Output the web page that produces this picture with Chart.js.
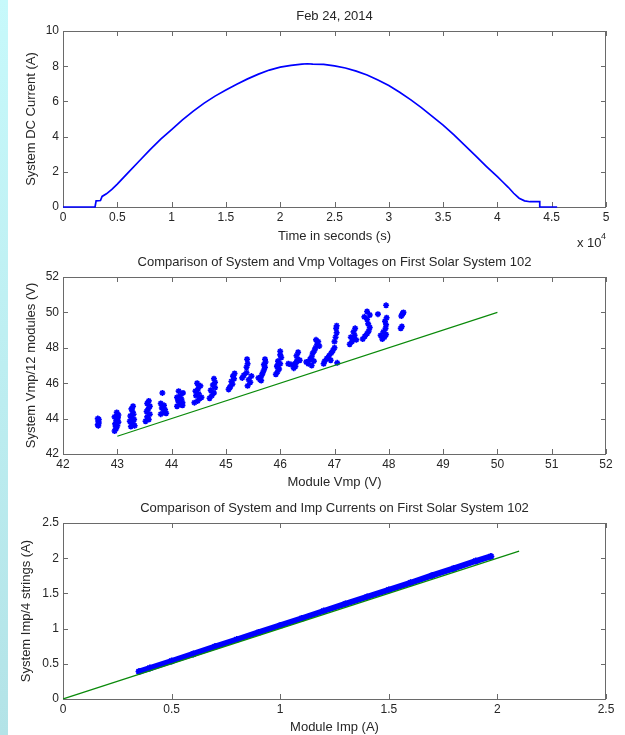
<!DOCTYPE html>
<html>
<head>
<meta charset="utf-8">
<title>First Solar System 102</title>
<script src="https://cdn.jsdelivr.net/npm/chart.js@4.4.1/dist/chart.umd.min.js"></script>
<style>
  html, body { margin: 0; padding: 0; background: #fff; }
  body { position: relative; width: 625px; height: 735px; overflow: hidden; }
  .edge { position: absolute; left: 0; top: 0; width: 8px; height: 735px; background: linear-gradient(#c7f9fb, #b3e3e7); }
  canvas { position: absolute; left: 0; }
</style>
</head>
<body>
<div class="edge"></div>
<canvas id="dcChart" width="625" height="250" style="top:0"></canvas>
<canvas id="vmpChart" width="625" height="242" style="top:250px"></canvas>
<canvas id="impChart" width="625" height="243" style="top:492px"></canvas>
<script>
// Feb 24, 2014 - DC current over the day
const timeSec = [0, 2950, 3050, 3450, 3600, 4000, 4500, 5000, 6000, 7000, 8000, 9000, 10000, 11000, 12000,
  13000, 14000, 15000, 16000, 17000, 18000, 19000, 20000, 21000, 22000, 22500, 23000, 24000, 25000, 26000,
  27000, 28000, 29000, 30000, 31000, 32000, 33000, 34000, 35000, 36000, 37000, 38000, 39000, 40000, 40500,
  41000, 41500, 42000, 42500, 43000, 43900, 43900, 45500];
const dcCurrent = [0, 0, 0.35, 0.37, 0.6, 0.75, 1.0, 1.3, 1.95, 2.6, 3.25, 3.85, 4.4, 4.95, 5.45,
  5.9, 6.3, 6.65, 6.98, 7.28, 7.55, 7.78, 7.95, 8.05, 8.12, 8.14, 8.12, 8.1, 8.02, 7.9,
  7.72, 7.5, 7.22, 6.9, 6.52, 6.1, 5.65, 5.15, 4.65, 4.1, 3.5, 2.9, 2.3, 1.72, 1.42,
  1.12, 0.78, 0.5, 0.35, 0.3, 0.3, 0, 0];

// module Vmp vs system Vmp / 12 modules, one row per column of readings
const vmpPoints = [
  [42.64, 43.65], [42.66, 43.75], [42.65, 43.85], [42.66, 43.95], [42.64, 44.0], [42.65, 43.6],
  [42.95, 43.3], [42.98, 43.45], [43.0, 43.6], [42.96, 43.7], [43.02, 43.8], [42.98, 43.9], [43.0, 44.0], [42.95, 44.1], [43.02, 44.2], [42.99, 44.35], [42.97, 43.55], [43.01, 44.05],
  [43.25, 43.55], [43.3, 43.65], [43.27, 43.75], [43.23, 43.85], [43.31, 43.95], [43.27, 44.05], [43.24, 44.15], [43.3, 44.25], [43.28, 44.4], [43.26, 44.55], [43.29, 44.7], [43.32, 43.6],
  [43.52, 43.85], [43.58, 43.95], [43.55, 44.1], [43.6, 44.25], [43.54, 44.4], [43.57, 44.55], [43.6, 44.7], [43.55, 44.85], [43.58, 45.0],
  [43.8, 44.25], [43.85, 44.35], [43.88, 44.5], [43.82, 44.6], [43.86, 44.75], [43.8, 44.85], [43.83, 45.45], [43.9, 44.3],
  [44.1, 44.7], [44.15, 44.8], [44.2, 44.9], [44.12, 45.0], [44.18, 45.1], [44.1, 45.2], [44.16, 45.3], [44.21, 45.45], [44.13, 45.55], [44.2, 44.75],
  [44.42, 44.9], [44.48, 45.0], [44.52, 45.15], [44.45, 45.3], [44.5, 45.4], [44.44, 45.55], [44.49, 45.7], [44.53, 45.85], [44.47, 46.0], [44.55, 45.2],
  [44.7, 45.15], [44.74, 45.3], [44.78, 45.45], [44.72, 45.6], [44.8, 45.75], [44.76, 45.9], [44.8, 46.05], [44.78, 46.25],
  [45.05, 45.65], [45.08, 45.8], [45.12, 45.95], [45.1, 46.1], [45.15, 46.25], [45.13, 46.4], [45.16, 46.55], [45.07, 45.75],
  [45.3, 46.3], [45.33, 46.45], [45.38, 46.6], [45.42, 46.2], [45.45, 46.05], [45.4, 45.85], [45.38, 46.9], [45.4, 47.1], [45.39, 47.35], [45.47, 46.4],
  [45.6, 46.3], [45.63, 46.2], [45.66, 46.45], [45.68, 46.6], [45.7, 46.75], [45.72, 46.9], [45.7, 47.05], [45.73, 47.2], [45.72, 47.35], [45.65, 46.15],
  [45.92, 46.5], [45.95, 46.65], [45.98, 46.8], [45.94, 46.95], [46.0, 47.1], [45.96, 47.25], [46.02, 47.45], [46.0, 47.6], [46.0, 47.8], [45.95, 47.0],
  [46.15, 47.1], [46.2, 47.05], [46.25, 46.85], [46.28, 46.95], [46.3, 47.2], [46.32, 47.35], [46.3, 47.55], [46.33, 47.75], [46.27, 47.1], [46.36, 47.3],
  [46.48, 47.2], [46.52, 47.1], [46.55, 47.35], [46.58, 47.5], [46.6, 47.7], [46.63, 47.85], [46.65, 48.0], [46.68, 48.2], [46.7, 48.35], [46.66, 48.45], [46.58, 47.0], [46.72, 48.1], [46.62, 47.25],
  [46.8, 47.1], [46.82, 47.25], [46.86, 47.4], [46.9, 47.55], [46.94, 47.7], [46.97, 47.85], [47.0, 48.0], [46.93, 47.3], [47.05, 47.15],
  [47.0, 48.35], [47.02, 48.6], [47.04, 48.85], [47.03, 49.1], [47.04, 49.25],
  [47.28, 48.2], [47.32, 48.35], [47.35, 48.55], [47.37, 48.7], [47.35, 48.9], [47.38, 49.1], [47.4, 48.45], [47.3, 48.6],
  [47.52, 48.5], [47.56, 48.65], [47.6, 48.8], [47.63, 48.95], [47.65, 49.15], [47.62, 49.35], [47.6, 49.6], [47.65, 49.85], [47.6, 50.05], [47.55, 49.75],
  [47.8, 49.9], [47.88, 48.5], [47.92, 48.6], [47.95, 48.75], [47.9, 48.9], [47.94, 49.1], [47.95, 49.3], [47.93, 49.5], [47.96, 49.7], [47.95, 50.4], [47.85, 48.7],
  [48.22, 49.1], [48.24, 49.2], [48.23, 49.8], [48.25, 49.9], [48.27, 50.0], [48.26, 49.95]
];
const vmpIdeal = [[43, 43], [50, 50]];

// module Imp vs system Imp / 4 strings
const impModule = [0.35, 0.4, 0.5, 0.6, 0.7, 0.8, 0.9, 1.0, 1.1, 1.2, 1.3, 1.4, 1.5, 1.6, 1.7, 1.8, 1.9, 1.97];
const impSystem = [0.39, 0.44, 0.54, 0.64, 0.745, 0.845, 0.945, 1.045, 1.145, 1.25, 1.35, 1.45, 1.55, 1.65, 1.755, 1.855, 1.96, 2.025];
const impIdeal = [[0, 0], [2.1, 2.1]];

const FONT = '"Liberation Sans", Arial, sans-serif';
const TEXT = "#262626";
const BLUE = "#0000ff";
const GREEN = "#0a8a0a";

Chart.defaults.font.family = FONT;
Chart.defaults.color = TEXT;

// axes box with inward ticks on all four sides
const boxTicks = {
  id: "boxTicks",
  beforeDatasetsDraw(chart) {
    const { ctx, chartArea: a, scales: { x, y } } = chart;
    ctx.save();
    ctx.strokeStyle = "#6a6a6a";
    ctx.lineWidth = 1;
    ctx.beginPath();
    x.ticks.forEach((t) => {
      const px = Math.round(x.getPixelForValue(t.value)) + 0.5;
      ctx.moveTo(px, a.bottom); ctx.lineTo(px, a.bottom - 5);
      ctx.moveTo(px, a.top); ctx.lineTo(px, a.top + 5);
    });
    y.ticks.forEach((t) => {
      const py = Math.round(y.getPixelForValue(t.value)) + 0.5;
      ctx.moveTo(a.left, py); ctx.lineTo(a.left + 5, py);
      ctx.moveTo(a.right, py); ctx.lineTo(a.right - 5, py);
    });
    ctx.stroke();
    ctx.strokeRect(Math.round(a.left) + 0.5, Math.round(a.top) + 0.5, Math.round(a.width) - 1, Math.round(a.height));
    ctx.restore();
  }
};

// "x 10^4" multiplier under the time axis
const timeExponent = {
  id: "timeExponent",
  afterDraw(chart) {
    const { ctx } = chart;
    ctx.save();
    ctx.fillStyle = TEXT;
    ctx.textBaseline = "alphabetic";
    ctx.font = `13px ${FONT}`;
    ctx.fillText("x 10", 577, 247);
    ctx.font = `9px ${FONT}`;
    ctx.fillText("4", 601, 239);
    ctx.restore();
  }
};

function makeOptions(cfg) {
  return {
    responsive: false,
    animation: false,
    events: [],
    layout: { padding: { left: 0, right: 19, top: 0, bottom: 0 } },
    plugins: {
      legend: { display: false },
      tooltip: { enabled: false },
      title: {
        display: true,
        text: cfg.title,
        fullSize: false,
        color: TEXT,
        font: { size: 13, weight: "normal" },
        padding: cfg.titlePad
      }
    },
    scales: {
      x: {
        type: "linear",
        min: cfg.x[0], max: cfg.x[1],
        afterFit: (s) => { s.height = cfg.xHeight; },
        grid: { display: false, drawTicks: false },
        border: { display: false },
        ticks: {
          stepSize: cfg.x[2], autoSkip: false, maxRotation: 0, padding: 3,
          font: { size: 12 }, color: TEXT,
          callback: cfg.xLabel || ((v) => v)
        },
        title: { display: true, text: cfg.xTitle, font: { size: 13 }, color: TEXT, padding: { top: 0, bottom: cfg.xTitlePad } }
      },
      y: {
        type: "linear",
        min: cfg.y[0], max: cfg.y[1],
        afterFit: (s) => { s.width = 63; },
        grid: { display: false, drawTicks: false },
        border: { display: false },
        ticks: { stepSize: cfg.y[2], autoSkip: false, padding: 4, font: { size: 12 }, color: TEXT, callback: (v) => v },
        title: { display: true, text: cfg.yTitle, font: { size: 13 }, color: TEXT, padding: { top: cfg.yTitlePad, bottom: 0 } }
      }
    }
  };
}

new Chart(document.getElementById("dcChart"), {
  type: "scatter",
  data: {
    datasets: [{
      data: timeSec.map((t, i) => ({ x: t, y: dcCurrent[i] })),
      showLine: true,
      borderColor: BLUE,
      borderWidth: 1.7,
      pointRadius: 0,
      clip: 2
    }]
  },
  options: makeOptions({
    title: "Feb 24, 2014",
    titlePad: { top: 8.2, bottom: 7.2 },
    x: [0, 50000, 5000], xHeight: 43, xTitle: "Time in seconds (s)", xTitlePad: 5.7,
    xLabel: (v) => v / 10000,
    y: [0, 10, 2], yTitle: "System DC Current (A)", yTitlePad: 23.2
  }),
  plugins: [boxTicks, timeExponent]
});

new Chart(document.getElementById("vmpChart"), {
  type: "scatter",
  data: {
    datasets: [
      {
        data: vmpIdeal.map(([x, y]) => ({ x, y })),
        showLine: true, borderColor: GREEN, borderWidth: 1.2, pointRadius: 0, order: 0
      },
      {
        data: vmpPoints.map(([x, y]) => ({ x, y })),
        pointStyle: "star", pointRadius: 3, borderWidth: 1.6,
        borderColor: BLUE, backgroundColor: BLUE, order: 1
      }
    ]
  },
  options: makeOptions({
    title: "Comparison of System and Vmp Voltages on First Solar System 102",
    titlePad: { top: 4.9, bottom: 6.5 },
    x: [42, 52, 1], xHeight: 38, xTitle: "Module Vmp (V)", xTitlePad: 2.2,
    y: [42, 52, 2], yTitle: "System Vmp/12 modules (V)", yTitlePad: 23.2
  }),
  plugins: [boxTicks]
});

new Chart(document.getElementById("impChart"), {
  type: "scatter",
  data: {
    datasets: [
      {
        data: impIdeal.map(([x, y]) => ({ x, y })),
        showLine: true, borderColor: GREEN, borderWidth: 1.2, pointRadius: 0, order: 0
      },
      {
        data: impModule.map((x, i) => ({ x, y: impSystem[i] })),
        showLine: true, borderColor: BLUE, borderWidth: 6, borderCapStyle: "round", borderJoinStyle: "round",
        pointStyle: "star", pointRadius: 3.5, pointBorderWidth: 1.6,
        pointBorderColor: BLUE, pointBackgroundColor: BLUE, order: 1
      }
    ]
  },
  options: makeOptions({
    title: "Comparison of System and Imp Currents on First Solar System 102",
    titlePad: { top: 8.5, bottom: 6.9 },
    x: [0, 2.5, 0.5], xHeight: 36, xTitle: "Module Imp (A)", xTitlePad: 0,
    y: [0, 2.5, 0.5], yTitle: "System Imp/4 strings (A)", yTitlePad: 18.7
  }),
  plugins: [boxTicks]
});
</script>
</body>
</html>
